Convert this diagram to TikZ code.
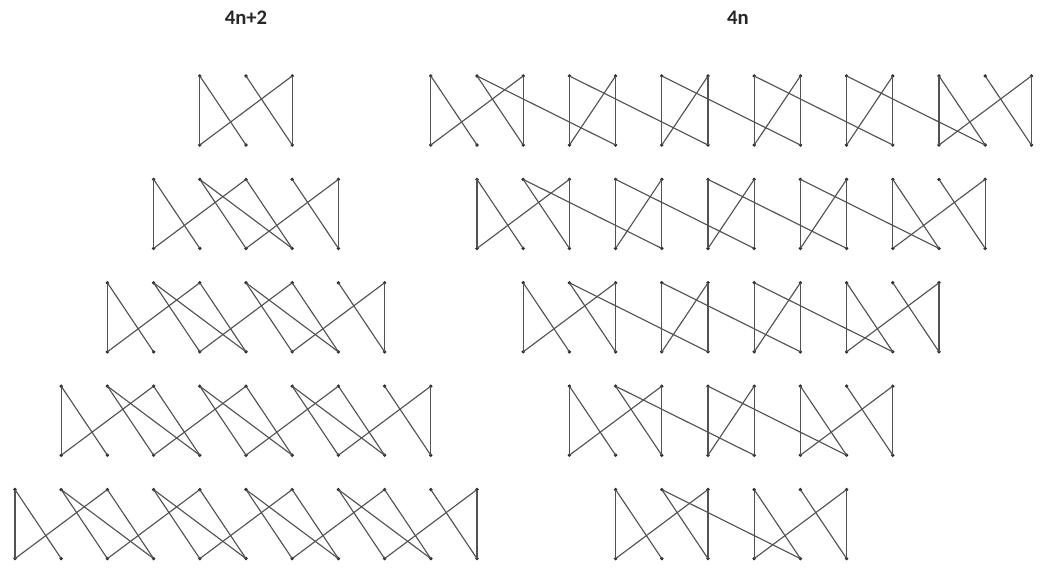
\documentclass[tikz,border=0pt]{standalone}
\usepackage{fontspec}
\setmainfont{Carlito}
\newcommand{\mkrow}[4]{% #1 prefix, #2 row, #3 first col, #4 last col
  \foreach \k in {#3,...,#4}{
    \node[vtx] (#1T\k) at ({15+46.2*\k},{76+103.4*(#2-1)}) {};
    \node[vtx] (#1B\k) at ({15+46.2*\k},{145+103.4*(#2-1)}) {};
  }}
\newcommand{\leftedges}[3]{% #1 prefix, #2 c0, #3 c1
  \draw[edge] (#1T#2.center) -- (#1B#2.center);
  \draw[edge] (#1T#3.center) -- (#1B#3.center);
  \foreach \k in {#2,...,#3}{
    \pgfmathtruncatemacro{\myA}{\k+1}
    \pgfmathtruncatemacro{\myB}{\k+2}
    \pgfmathtruncatemacro{\myP}{mod(\k-#2,2)}
    \ifnum\k<#3 \draw[edge] (#1T\k.center) -- (#1B\myA.center);\fi
    \ifnum\myB>#3 \else
      \ifnum\myP=0 \draw[edge] (#1B\k.center) -- (#1T\myB.center);
      \else \draw[edge] (#1T\k.center) -- (#1B\myB.center);\fi
    \fi
  }}
\newcommand{\blk}[2]{% #1 prefix, #2 first col of a 3-column block
  \pgfmathtruncatemacro{\myC}{#2+1}
  \pgfmathtruncatemacro{\myD}{#2+2}
  \draw[edge] (#1T#2.center) -- (#1B#2.center);
  \draw[edge] (#1T#2.center) -- (#1B\myC.center);
  \draw[edge] (#1B#2.center) -- (#1T\myD.center);
  \draw[edge] (#1T\myC.center) -- (#1B\myD.center);
  \draw[edge] (#1T\myD.center) -- (#1B\myD.center);
}
\newcommand{\rightedges}[3]{% #1 prefix, #2 c0, #3 c1
  \blk{#1}{#2}
  \pgfmathtruncatemacro{\myE}{#3-2}
  \blk{#1}{\myE}
  \pgfmathtruncatemacro{\myF}{#2+1}
  \pgfmathtruncatemacro{\myG}{#2+4}
  \draw[edge] (#1T\myF.center) -- (#1B\myG.center);
  \foreach \k in {#2,...,#3}{
    \pgfmathtruncatemacro{\myA}{\k+1}
    \pgfmathtruncatemacro{\myB}{\k+3}
    \pgfmathtruncatemacro{\myP}{mod(\k-#2-3,2)}
    \pgfmathtruncatemacro{\myOK}{(\k>=#2+3)&&(\k<=#3-4)&&(\myP==0)}
    \ifnum\myOK=1
      \draw[edge] (#1T\k.center) -- (#1B\k.center);
      \draw[edge] (#1B\k.center) -- (#1T\myA.center);
      \draw[edge] (#1T\myA.center) -- (#1B\myA.center);
      \draw[edge] (#1T\k.center) -- (#1B\myB.center);
    \fi
  }}
\begin{document}
\begin{tikzpicture}[x=0.75pt,y=-0.75pt,
  vtx/.style={circle,fill=black!85,inner sep=0pt,minimum size=2.8pt},
  edge/.style={draw=black!68,line width=0.85pt},
  title/.style={font=\bfseries\fontsize{15.5}{18}\selectfont,text=black!85}]
\useasboundingbox (0,0) rectangle (1040,585);
\node[title] (t1) at (246,18) {4n+2};
\node[title] (t2) at (738,18) {4n};
% left family (4n+2)
\mkrow{La}{1}{4}{6}
\mkrow{Lb}{2}{3}{7}
\mkrow{Lc}{3}{2}{8}
\mkrow{Ld}{4}{1}{9}
\mkrow{Le}{5}{0}{10}
\leftedges{La}{4}{6}
\leftedges{Lb}{3}{7}
\leftedges{Lc}{2}{8}
\leftedges{Ld}{1}{9}
\leftedges{Le}{0}{10}
% right family (4n)
\mkrow{Ra}{1}{9}{22}
\mkrow{Rb}{2}{10}{21}
\mkrow{Rc}{3}{11}{20}
\mkrow{Rd}{4}{12}{19}
\mkrow{Re}{5}{13}{18}
\rightedges{Ra}{9}{22}
\rightedges{Rb}{10}{21}
\rightedges{Rc}{11}{20}
\rightedges{Rd}{12}{19}
\rightedges{Re}{13}{18}
\end{tikzpicture}
\end{document}
